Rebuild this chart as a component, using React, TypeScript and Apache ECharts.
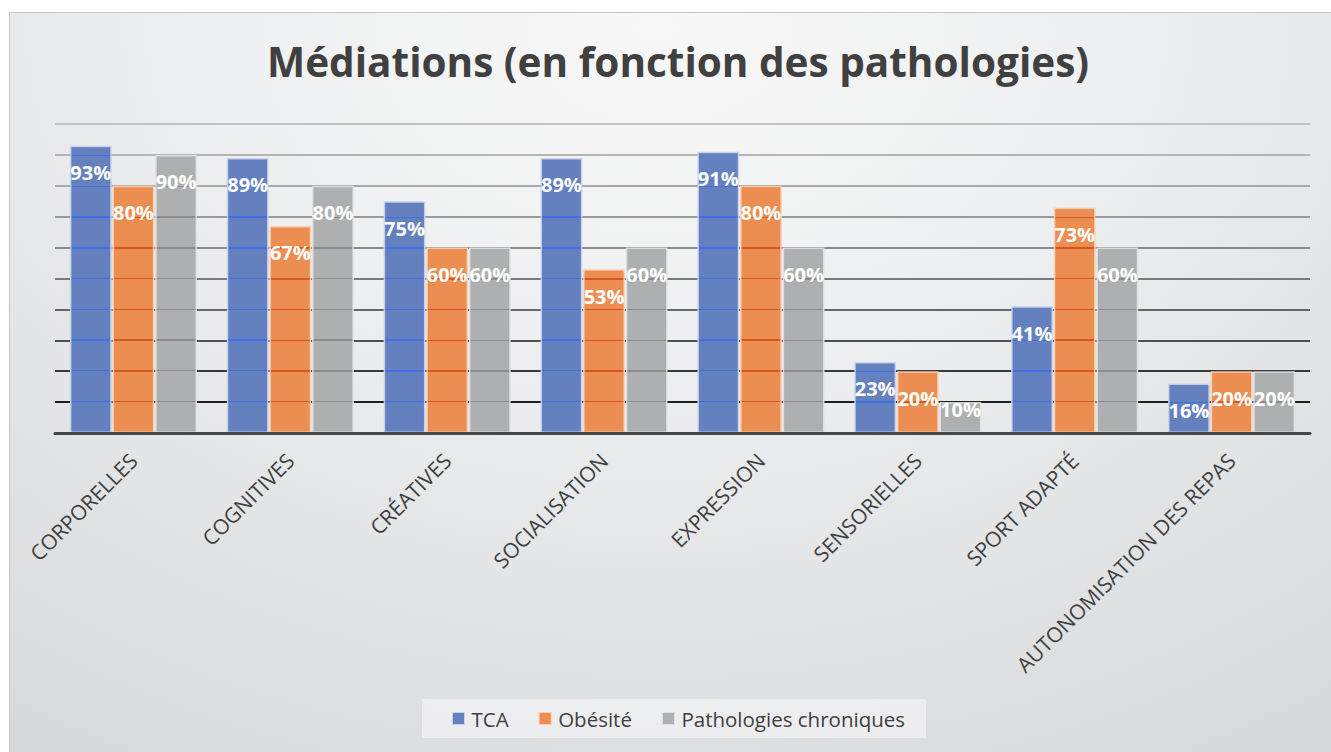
import React, { useEffect, useRef } from "react";
import * as echarts from "echarts";

const categories = [
  "CORPORELLES",
  "COGNITIVES",
  "CRÉATIVES",
  "SOCIALISATION",
  "EXPRESSION",
  "SENSORIELLES",
  "SPORT ADAPTÉ",
  "AUTONOMISATION DES REPAS",
];
const seriesNames = ["TCA", "Obésité", "Pathologies chroniques"];
const tcaValues = [93, 89, 75, 89, 91, 23, 41, 16];
const obesiteValues = [80, 67, 60, 53, 80, 20, 73, 20];
const chroniquesValues = [90, 80, 60, 60, 60, 10, 60, 20];
const yTicks = [0, 10, 20, 30, 40, 50, 60, 70, 80, 90, 100];

const W = 1331;
const H = 752;
const GRID_LEFT = 55;
const GRID_RIGHT = 21;
const GRID_TOP = 124;
const GRID_BOTTOM = 319;
const PLOT_H = H - GRID_TOP - GRID_BOTTOM;
const Y_MAX = 100;

const FONT = "'Open Sans', 'Noto Sans', sans-serif";
const TEXT = "#404040";

const splitColors = [
  "#c6c6c6",
  "#1e1e1e",
  "#383838",
  "#505050",
  "#666666",
  "#7a7a7a",
  "#8a8a8a",
  "#9a9a9a",
  "#a8a8a8",
  "#b4b4b4",
  "#c2c2c2",
];

function stripedFill(value: number, base: string, line: string) {
  const pxPerUnit = PLOT_H / Y_MAX;
  const barPx = value * pxPerUnit;
  const half = 0.7 / barPx;
  const stops: { offset: number; color: string }[] = [{ offset: 0, color: base }];
  const grids = yTicks.filter((g) => g > 0 && g < value - 1).sort((a, b) => b - a);
  for (const g of grids) {
    const c = (value - g) / value;
    stops.push({ offset: Math.max(0, c - half), color: base });
    stops.push({ offset: Math.max(0, c - half), color: line });
    stops.push({ offset: Math.min(1, c + half), color: line });
    stops.push({ offset: Math.min(1, c + half), color: base });
  }
  stops.push({ offset: 1, color: base });
  return new echarts.graphic.LinearGradient(0, 0, 0, 1, stops);
}

const palette = [
  { base: "#6480bf", line: "#3f6fe3", border: "rgba(200,212,240,0.9)" },
  { base: "#ec8e52", line: "#d8571f", border: "rgba(250,210,180,0.9)" },
  { base: "#aeafb1", line: "#8b8b8b", border: "rgba(225,225,225,0.9)" },
];

export default function App() {
  const ref = useRef<HTMLDivElement>(null);

  useEffect(() => {
    if (!ref.current) return;
    const chart = echarts.init(ref.current, null, { renderer: "svg" });
    const allValues = [tcaValues, obesiteValues, chroniquesValues];
    const pxPerUnit = PLOT_H / Y_MAX;

    const series = allValues.map((vals, si) => ({
      name: seriesNames[si],
      type: "bar",
      barGap: "2%",
      barCategoryGap: "19%",
      itemStyle: {
        color: palette[si].base,
        borderColor: palette[si].border,
        borderWidth: 1.5,
      },
      data: vals.map((v) => ({
        value: v,
        itemStyle: { color: stripedFill(v, palette[si].base, palette[si].line) },
        label: { distance: v * pxPerUnit < 40 ? -3 : 17 },
      })),
      label: {
        show: true,
        position: "insideTop",
        distance: 17,
        color: "#ffffff",
        fontFamily: FONT,
        fontWeight: "bold",
        fontSize: 20,
        formatter: (p: any) => `${p.value}%`,
      },
    }));

    chart.setOption({
      animation: false,
      backgroundColor: "transparent",
      title: {
        text: "Médiations (en fonction des pathologies)",
        left: 262,
        top: 36,
        textStyle: {
          fontFamily: FONT,
          fontWeight: "bold",
          fontSize: 40.5,
          color: TEXT,
        },
      },
      legend: {
        data: seriesNames.map((n, i) => ({
          name: n,
          itemStyle: { color: palette[i].base, borderColor: palette[i].border, borderWidth: 1 },
        })),
        left: 422,
        top: 699,
        icon: "rect",
        itemWidth: 12,
        itemHeight: 12,
        itemGap: 30,
        padding: [9, 21, 9, 30],
        backgroundColor: "rgba(240,240,241,0.85)",
        textStyle: {
          fontFamily: FONT,
          fontSize: 20.5,
          color: TEXT,
          padding: [0, 0, 0, 2],
        },
      },
      grid: {
        left: GRID_LEFT,
        right: GRID_RIGHT,
        top: GRID_TOP,
        bottom: GRID_BOTTOM,
        containLabel: false,
      },
      xAxis: {
        type: "category",
        data: categories,
        axisTick: { show: false },
        axisLine: { show: true, lineStyle: { color: "#474747", width: 3 } },
        axisLabel: {
          rotate: 45,
          interval: 0,
          margin: 24,
          fontFamily: FONT,
          fontSize: 21,
          color: TEXT,
        },
        z: 5,
      },
      yAxis: {
        type: "value",
        min: 0,
        max: Y_MAX,
        interval: 10,
        axisLabel: { show: false },
        axisLine: { show: false },
        axisTick: { show: false },
        splitLine: { show: true, lineStyle: { color: splitColors, width: 2 } },
      },
      series,
    });

    return () => chart.dispose();
  }, []);

  return (
    <div
      style={{
        position: "fixed",
        left: 0,
        top: 0,
        width: W,
        height: H,
        background: "#ffffff",
        overflow: "hidden",
      }}
    >
      <div
        style={{
          position: "absolute",
          left: 9,
          top: 12,
          width: W + 20,
          height: H + 20,
          boxSizing: "border-box",
          border: "1.5px solid #c6c6c8",
          background:
            "radial-gradient(ellipse 95% 120% at 48% 2%, #f8f8f8 0%, #eeeff0 35%, #e2e3e5 65%, #d5d6d8 100%)",
        }}
      />
      <div ref={ref} style={{ position: "absolute", left: 0, top: 0, width: W, height: H }} />
    </div>
  );
}
